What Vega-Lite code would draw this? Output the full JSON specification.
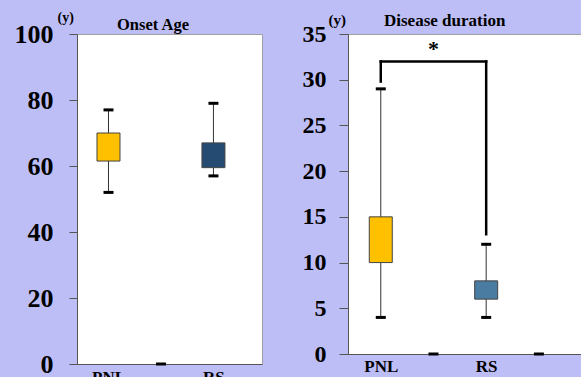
{
  "$schema": "https://vega.github.io/schema/vega-lite/v6.json",
  "background": "#BEBEF7",
  "padding": {"left": 13, "top": 9, "right": 0, "bottom": 0},
  "autosize": {"type": "pad"},
  "spacing": 38,
  "config": {
    "font": "Liberation Serif",
    "view": {"fill": "white", "stroke": "#a0a0a0", "strokeWidth": 1},
    "axis": {"labelFont": "Liberation Serif", "labelFontWeight": "bold", "labelColor": "black", "domainColor": "#555555", "tickColor": "#555555", "grid": false, "titleFont": "Liberation Serif", "titleFontWeight": "bold", "titleColor": "black"},
    "title": {"font": "Liberation Serif", "fontWeight": "bold", "color": "black", "anchor": "start", "frame": "group", "baseline": "alphabetic"}
  },
  "datasets": {
    "onset": [
      {"group": "PNL", "pos": 1, "min": 52, "q1": 61.5, "q3": 70, "max": 77},
      {"group": "RS", "pos": 3, "min": 57, "q1": 59.5, "q3": 67, "max": 79}
    ],
    "onsetEmpty": [{"pos": 2, "value": 0}],
    "duration": [
      {"group": "PNL", "pos": 1, "min": 4, "q1": 10, "q3": 15, "max": 29},
      {"group": "RS", "pos": 3, "min": 4, "q1": 6, "q3": 8, "max": 12}
    ],
    "durationEmpty": [{"pos": 2, "value": 0}, {"pos": 4, "value": 0}],
    "bracket": [
      {"x1": 1, "x2": 1, "y1": 29.8, "y2": 32},
      {"x1": 1, "x2": 3, "y1": 32, "y2": 32},
      {"x1": 3, "x2": 3, "y1": 13.1, "y2": 32}
    ],
    "sig": [{"x": 2, "y": 33.4, "label": "*"}]
  },
  "hconcat": [
    {
      "width": 185,
      "height": 330,
      "title": {"text": "Onset Age", "fontSize": 16.5, "dx": 40, "offset": -23},
      "layer": [
        {
          "data": {"name": "onset"},
          "mark": {"type": "rule", "color": "#333333", "strokeWidth": 1},
          "encoding": {
            "x": {"field": "pos", "type": "quantitative", "scale": {"domain": [0.495, 3.83], "nice": false, "zero": false},
              "axis": {"values": [1, 3], "labelExpr": "datum.value == 1 ? 'PNL' : 'RS'", "title": null, "ticks": false, "labelFontSize": 17, "labelPadding": 5, "labelFlush": false}},
            "y": {"field": "min", "type": "quantitative", "scale": {"domain": [0, 100], "nice": false},
              "axis": {"values": [0, 20, 40, 60, 80, 100], "title": "(y)", "titleAngle": 0, "titleX": -20, "titleY": -10, "titleAlign": "left", "titleBaseline": "bottom", "titleFontSize": 14, "labelFontSize": 26, "tickSize": 8, "labelPadding": 16}},
            "y2": {"field": "max"}
          }
        },
        {
          "data": {"name": "onset"},
          "mark": {"type": "bar", "size": 23, "stroke": "#444444", "strokeWidth": 1},
          "encoding": {
            "x": {"field": "pos", "type": "quantitative"},
            "y": {"field": "q1", "type": "quantitative"},
            "y2": {"field": "q3"},
            "color": {"field": "group", "type": "nominal", "scale": {"domain": ["PNL", "RS"], "range": ["#FFC000", "#264B73"]}, "legend": null}
          }
        },
        {
          "data": {"name": "onset"},
          "mark": {"type": "tick", "orient": "horizontal", "size": 10, "thickness": 3, "color": "black", "opacity": 1},
          "encoding": {"x": {"field": "pos", "type": "quantitative"}, "y": {"field": "min", "type": "quantitative"}}
        },
        {
          "data": {"name": "onset"},
          "mark": {"type": "tick", "orient": "horizontal", "size": 10, "thickness": 3, "color": "black", "opacity": 1},
          "encoding": {"x": {"field": "pos", "type": "quantitative"}, "y": {"field": "max", "type": "quantitative"}}
        },
        {
          "data": {"name": "onsetEmpty"},
          "mark": {"type": "tick", "orient": "horizontal", "size": 10, "thickness": 3, "color": "black", "opacity": 1},
          "encoding": {"x": {"field": "pos", "type": "quantitative"}, "y": {"field": "value", "type": "quantitative"}}
        }
      ]
    },
    {
      "width": 240,
      "height": 320,
      "title": {"text": "Disease duration", "fontSize": 17, "dx": 36, "offset": -18},
      "layer": [
        {
          "data": {"name": "duration"},
          "mark": {"type": "rule", "color": "#333333", "strokeWidth": 1},
          "encoding": {
            "x": {"field": "pos", "type": "quantitative", "scale": {"domain": [0.473, 4.837], "nice": false, "zero": false},
              "axis": {"values": [1, 3], "labelExpr": "datum.value == 1 ? 'PNL' : 'RS'", "title": null, "ticks": false, "labelFontSize": 17, "labelPadding": 4, "labelFlush": false}},
            "y": {"field": "min", "type": "quantitative", "scale": {"domain": [0, 35], "nice": false},
              "axis": {"values": [0, 5, 10, 15, 20, 25, 30, 35], "title": "(y)", "titleAngle": 0, "titleX": -20, "titleY": -7, "titleAlign": "left", "titleBaseline": "bottom", "titleFontSize": 15, "labelFontSize": 24, "tickSize": 9, "labelPadding": 13}},
            "y2": {"field": "max"}
          }
        },
        {
          "data": {"name": "duration"},
          "mark": {"type": "bar", "size": 23, "stroke": "#444444", "strokeWidth": 1},
          "encoding": {
            "x": {"field": "pos", "type": "quantitative"},
            "y": {"field": "q1", "type": "quantitative"},
            "y2": {"field": "q3"},
            "color": {"field": "group", "type": "nominal", "scale": {"domain": ["PNL", "RS"], "range": ["#FFC000", "#4A7BA0"]}, "legend": null}
          }
        },
        {
          "data": {"name": "duration"},
          "mark": {"type": "tick", "orient": "horizontal", "size": 10, "thickness": 3, "color": "black", "opacity": 1},
          "encoding": {"x": {"field": "pos", "type": "quantitative"}, "y": {"field": "min", "type": "quantitative"}}
        },
        {
          "data": {"name": "duration"},
          "mark": {"type": "tick", "orient": "horizontal", "size": 10, "thickness": 3, "color": "black", "opacity": 1},
          "encoding": {"x": {"field": "pos", "type": "quantitative"}, "y": {"field": "max", "type": "quantitative"}}
        },
        {
          "data": {"name": "durationEmpty"},
          "mark": {"type": "tick", "orient": "horizontal", "size": 10, "thickness": 3, "color": "black", "opacity": 1},
          "encoding": {"x": {"field": "pos", "type": "quantitative"}, "y": {"field": "value", "type": "quantitative"}}
        },
        {
          "data": {"name": "bracket"},
          "mark": {"type": "rule", "color": "black", "strokeWidth": 2.5, "strokeCap": "square"},
          "encoding": {
            "x": {"field": "x1", "type": "quantitative"},
            "x2": {"field": "x2"},
            "y": {"field": "y1", "type": "quantitative"},
            "y2": {"field": "y2"}
          }
        },
        {
          "data": {"name": "sig"},
          "mark": {"type": "text", "fontSize": 22, "fontWeight": "bold", "font": "Liberation Serif", "baseline": "middle", "color": "black"},
          "encoding": {
            "x": {"field": "x", "type": "quantitative"},
            "y": {"field": "y", "type": "quantitative"},
            "text": {"field": "label"}
          }
        }
      ]
    }
  ],
  "resolve": {"scale": {"color": "independent"}}
}
